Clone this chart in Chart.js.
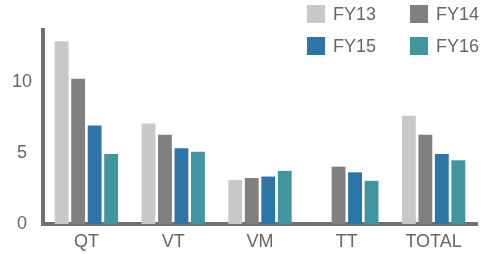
<!DOCTYPE html>
<html>
<head>
<meta charset="utf-8">
<script src="https://cdn.jsdelivr.net/npm/chart.js@4/dist/chart.umd.min.js"></script>
<style>
    body { margin: 0; background: #fff; overflow: hidden; }
    #wrap { position: relative; width: 492px; height: 254px; }
    #legend {
        position: absolute; left: 307px; top: 5px;
        display: grid; grid-template-columns: 103px 80px; row-gap: 14px;
        font-family: "Liberation Sans", sans-serif; font-size: 18px; color: #666;
    }
    #legend div { display: flex; align-items: center; height: 18px; }
    #legend span.box { width: 18px; height: 18px; margin-right: 8px; display: inline-block; }
</style>
</head>
<body>
<div id="wrap">
    <canvas id="barChart" width="492" height="254"></canvas>
    <div id="legend"></div>
</div>
<script>
var categories = ["QT", "VT", "VM", "TT", "TOTAL"];
var seriesNames = ["FY13", "FY14", "FY15", "FY16"];
var fy13 = [12.9, 7.1, 3.1, null, 7.65];
var fy14 = [10.25, 6.3, 3.25, 4.05, 6.3];
var fy15 = [6.95, 5.35, 3.35, 3.65, 4.95];
var fy16 = [4.95, 5.1, 3.75, 3.05, 4.5];
var yTicks = [0, 5, 10];

var colors = ["#c8c8c8", "#808080", "#2e75a7", "#41959f"];
var values = [fy13, fy14, fy15, fy16];

var datasets = [];
for (var i = 0; i < seriesNames.length; i++) {
    datasets.push({
        label: seriesNames[i],
        data: values[i],
        backgroundColor: colors[i],
        borderWidth: 0,
        categoryPercentage: 0.76,
        barPercentage: 0.84
    });
}

var ctx = document.getElementById("barChart");
var chart = new Chart(ctx, {
    type: 'bar',
    data: { labels: categories, datasets: datasets },
    options: {
        responsive: false,
        animation: false,
        layout: { padding: { top: 30, right: 15, left: 0, bottom: 0 } },
        plugins: { legend: { display: false }, tooltip: { enabled: false } },
        scales: {
            x: {
                grid: { display: false, drawTicks: false },
                border: { color: "#707070", width: 4 },
                ticks: { color: "#666", font: { family: "Liberation Sans", size: 18 }, padding: 7 },
                afterFit: function(scale) { scale.height = 30; }
            },
            y: {
                min: 0,
                max: 13.7,
                grid: { display: false },
                border: { color: "#707070", width: 4 },
                afterBuildTicks: function(scale) {
                    scale.ticks = yTicks.map(function(v) { return { value: v }; });
                },
                ticks: { color: "#666", font: { family: "Liberation Sans", size: 18 }, crossAlign: 'center' },
                afterFit: function(scale) { scale.width = 43; }
            }
        }
    }
});

// html legend, two per row
var legend = document.getElementById("legend");
chart.data.datasets.forEach(function(ds) {
    var item = document.createElement("div");
    var box = document.createElement("span");
    box.className = "box";
    box.style.background = ds.backgroundColor;
    item.appendChild(box);
    item.appendChild(document.createTextNode(ds.label));
    legend.appendChild(item);
});
</script>
</body>
</html>
